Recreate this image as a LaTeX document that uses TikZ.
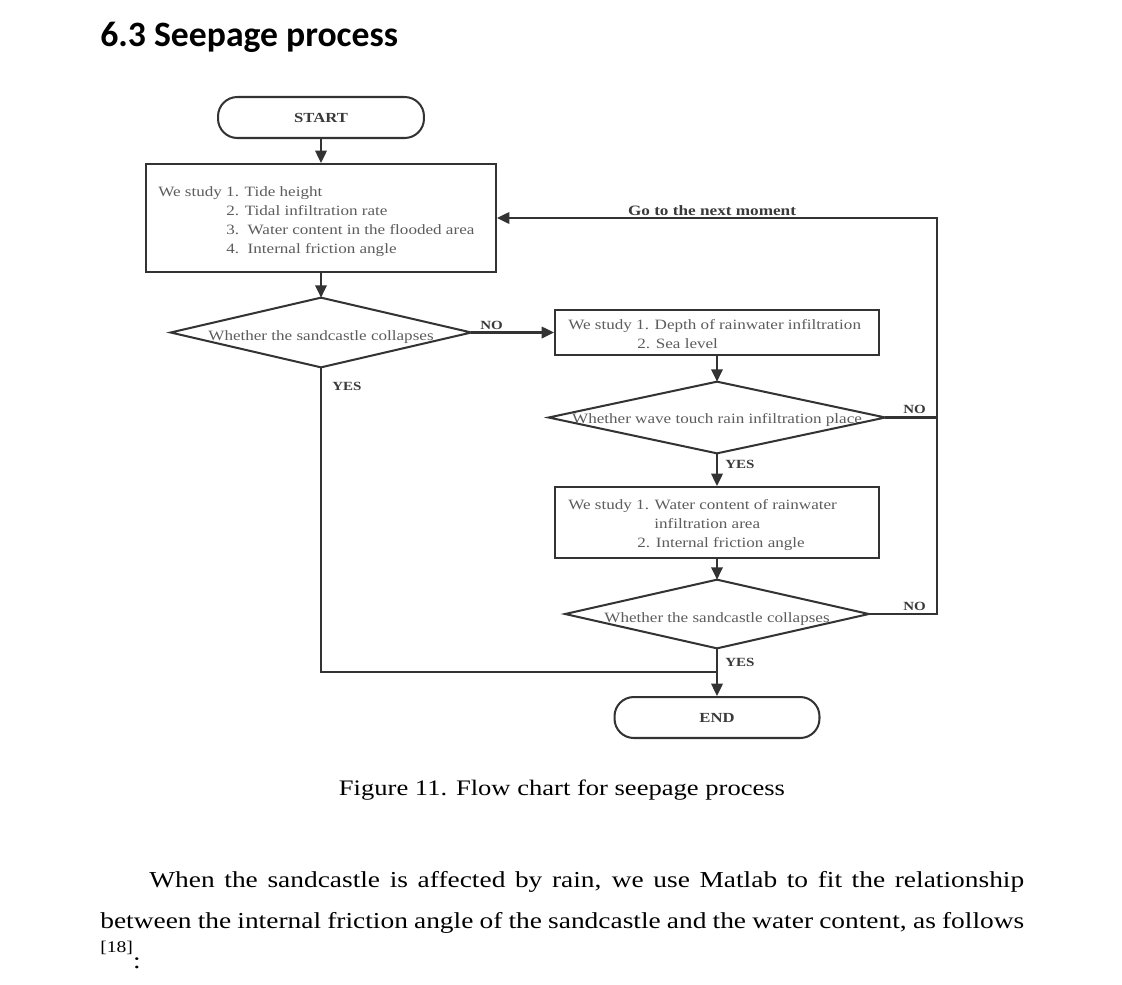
\documentclass[tikz,border=0pt]{standalone}
\usepackage{fontspec}
\setmainfont[FakeStretch=1.2]{Liberation Serif}
\newfontfamily\headfont{Carlito}
\usetikzlibrary{arrows.meta,positioning}

\definecolor{linegray}{HTML}{333333}
\definecolor{textgray}{HTML}{5C5C5C}
\definecolor{labgray}{HTML}{3A3A3A}

\tikzset{
  flowline/.style={draw=linegray, line width=1.15pt},
  flowarrow/.style={flowline, -{Triangle[length=7pt,width=6.5pt]}},
  term/.style={flowline, rounded corners=11pt, minimum width=4.12cm, minimum height=0.82cm, inner sep=0pt, text=labgray, font=\bfseries\fontsize{7.9}{9}\selectfont},
  proc/.style={flowline, inner sep=0pt},
  decide/.style={inner sep=0pt, text=textgray, text depth=0pt, font=\fontsize{8.1}{10}\selectfont},
  boxtext/.style={inner sep=0pt, anchor=base west, text=textgray, font=\fontsize{8.1}{10}\selectfont},
  answer/.style={inner sep=0pt, anchor=base west, text=labgray, font=\bfseries\fontsize{7.1}{8}\selectfont},
  bodytext/.style={anchor=base west, inner sep=0pt, font=\fontsize{13.0}{16}\selectfont},
}

\begin{document}
\begin{tikzpicture}[x=0.02cm,y=-0.02cm]

% Page
\fill[white] (0,0) rectangle (1122,984);
\useasboundingbox (0,0) rectangle (1122,984);

% Heading
\node[anchor=base west, inner sep=0pt, font=\headfont\bfseries\fontsize{20.3}{24}\selectfont] (title) at (100,46) {6.3 Seepage process};

% Start and first study box
\node[term, text height=6pt, text depth=0pt] (start) at (321,117.5) {START};
\node[proc, minimum width=7.0cm, minimum height=2.16cm] (study1) at (321,218) {};
\node[boxtext] (s1a) at (158,196) {We study 1. Tide height};
\node[boxtext] (s1b) at (226,215) {2. Tidal infiltration rate};
\node[boxtext] (s1c) at (226,234) {3.\ \ Water content in the flooded area};
\node[boxtext] (s1d) at (226,253) {4.\ \ Internal friction angle};

% First decision
\node[decide, text height=9.5pt, minimum width=6.0cm, minimum height=1.38cm] (collapse1) at (321,332.5) {Whether the sandcastle collapses};
\draw[flowline] (collapse1.west) -- (collapse1.north) -- (collapse1.east) -- (collapse1.south) -- cycle;

% Rain branch
\node[proc, minimum width=6.48cm, minimum height=0.9cm] (study2) at (717,332.5) {};
\node[boxtext] (s2a) at (568,329) {We study 1. Depth of rainwater infiltration};
\node[boxtext] (s2b) at (637,348) {2. Sea level};

\node[decide, text height=7.2pt, minimum width=6.72cm, minimum height=1.42cm] (wave) at (717,417.5) {Whether wave touch rain infiltration place};
\draw[flowline] (wave.west) -- (wave.north) -- (wave.east) -- (wave.south) -- cycle;

\node[proc, minimum width=6.48cm, minimum height=1.42cm] (study3) at (717,522.5) {};
\node[boxtext] (s3a) at (568,509) {We study 1. Water content of rainwater};
\node[boxtext] (s3b) at (654,528) {infiltration area};
\node[boxtext] (s3c) at (637,547) {2. Internal friction angle};

\node[decide, text height=9.5pt, minimum width=6.06cm, minimum height=1.36cm] (collapse2) at (717,614) {Whether the sandcastle collapses};
\draw[flowline] (collapse2.west) -- (collapse2.north) -- (collapse2.east) -- (collapse2.south) -- cycle;

% End
\node[term, minimum width=4.1cm, text height=6pt, text depth=0pt] (stop) at (717,717.5) {END};

% Connectors
\coordinate (back) at (937,614);
\coordinate (join) at (717,672);
\draw[flowarrow] (start) -- (study1);
\draw[flowarrow] (study1) -- (collapse1);
\draw[flowarrow] (collapse1.east) -- (study2.west);
\draw[flowarrow] (study2) -- (wave);
\draw[flowarrow] (wave) -- (study3);
\draw[flowarrow] (study3) -- (collapse2);
\draw[flowarrow] (collapse2) -- (stop);
\draw[flowline] (collapse1.south) |- (join);
\draw[flowline] (wave.east) -- (wave.east -| back);
\draw[flowarrow] (collapse2.east) -- (back) |- (study1.east);

% Labels
\node[answer] (no1) at (480,329) {NO};
\node[answer] (yes1) at (332,390) {YES};
\node[answer] (no2) at (903,413) {NO};
\node[answer] (yes2) at (725,468) {YES};
\node[answer] (no3) at (903,610) {NO};
\node[answer] (yes3) at (725,666) {YES};
\node[inner sep=0pt, anchor=base, text=labgray, font=\bfseries\fontsize{8.15}{9}\selectfont] (next) at (712,215) {Go to the next moment};

% Caption
\node[anchor=base, inner sep=0pt, font=\fontsize{12.6}{15}\selectfont] (caption) at (562,795) {Figure 11. Flow chart for seepage process};

% Paragraph
\node[bodytext] (para1) at (149,887) {\makebox[17.5cm][s]{When the sandcastle is affected by rain, we use Matlab to fit the relationship}};
\node[bodytext] (para2) at (100,928) {\makebox[18.48cm][s]{between the internal friction angle of the sandcastle and the water content, as follows}};
\node[bodytext] (para3) at (100,968) {\raisebox{9pt}{\fontsize{9.3}{10}\selectfont[18]}:};

\end{tikzpicture}
\end{document}
